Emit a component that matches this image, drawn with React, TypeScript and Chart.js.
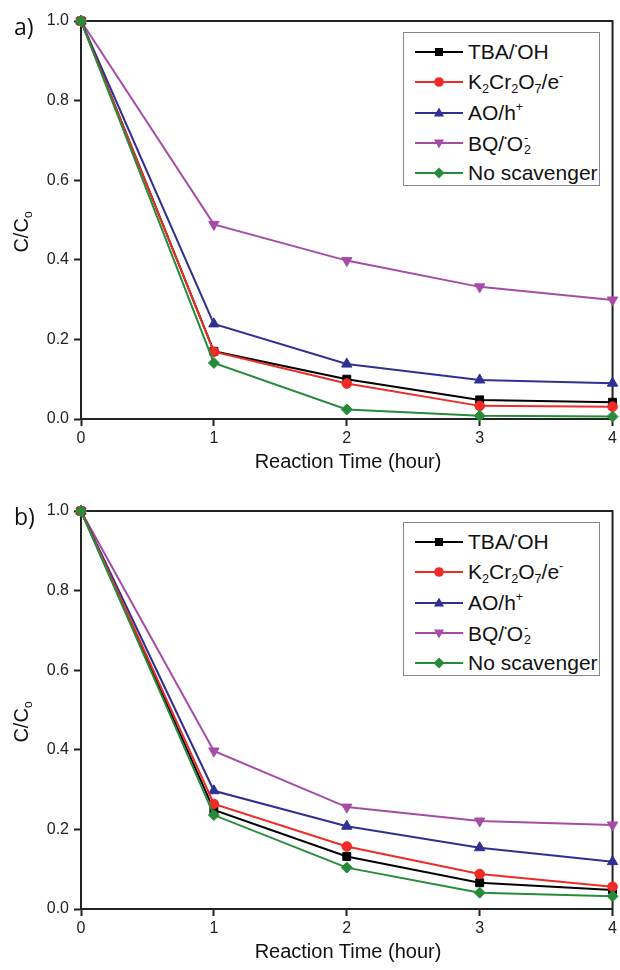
import React, { useEffect, useRef } from "react";
import { Chart, registerables } from "chart.js";
Chart.register(...registerables);

// ---------- data ----------
const hours = [0, 1, 2, 3, 4];
const xTickValues = [0, 1, 2, 3, 4];
const yTickValues = [0, 0.2, 0.4, 0.6, 0.8, 1.0];

const aTBA = [1.0, 0.17, 0.1, 0.048, 0.042];
const aK2 = [1.0, 0.169, 0.089, 0.033, 0.031];
const aAO = [1.0, 0.239, 0.138, 0.098, 0.09];
const aBQ = [1.0, 0.489, 0.398, 0.332, 0.299];
const aNo = [1.0, 0.141, 0.024, 0.008, 0.006];

const bTBA = [1.0, 0.249, 0.132, 0.066, 0.048];
const bK2 = [1.0, 0.264, 0.157, 0.088, 0.056];
const bAO = [1.0, 0.297, 0.208, 0.154, 0.119];
const bBQ = [1.0, 0.397, 0.256, 0.221, 0.211];
const bNo = [1.0, 0.236, 0.104, 0.041, 0.032];

const xTitle = "Reaction Time (hour)";

// ---------- styles ----------
const FONT = "'Liberation Sans', Arial, Helvetica, sans-serif";
const styles = [
  { color: "#000000", pointStyle: "rect", radius: 5.6, rotation: 0, order: 3 },
  { color: "#ee2b24", pointStyle: "circle", radius: 4.8, rotation: 0, order: 2 },
  { color: "#2e3192", pointStyle: "triangle", radius: 6, rotation: 0, order: 4 },
  { color: "#a54ca7", pointStyle: "triangle", radius: 6, rotation: 180, order: 5 },
  { color: "#278c3a", pointStyle: "rectRot", radius: 5.5, rotation: 0, order: 1 },
];

const Sup = ({ c, size = "0.6em", va = "0.7em" }: any) => (
  <span style={{ fontSize: size, verticalAlign: va, lineHeight: 0 }}>{c}</span>
);
const Sub = ({ c }: any) => (
  <span style={{ fontSize: "0.6em", verticalAlign: "-0.35em", lineHeight: 0 }}>{c}</span>
);

const legendLabels = [
  <span>TBA/<Sup c="•" size="0.35em" va="1.5em" />OH</span>,
  <span>K<Sub c="2" />Cr<Sub c="2" />O<Sub c="7" />/e<Sup c="-" /></span>,
  <span>AO/h<Sup c="+" /></span>,
  <span>
    BQ/<Sup c="•" size="0.35em" va="1.5em" />O
    <span style={{ display: "inline-block", position: "relative", width: "0.4em", height: "1em", lineHeight: 0 }}>
      <span style={{ position: "absolute", left: 1, top: 2, fontSize: "0.6em", lineHeight: 1 }}>-</span>
      <span style={{ position: "absolute", left: 1, top: 14, fontSize: "0.6em", lineHeight: 1 }}>2</span>
    </span>
  </span>,
  <span>No scavenger</span>,
];

const Marker = ({ i }: any) => {
  const s = styles[i];
  const c = s.color;
  let shape: any = null;
  const cx = 24, cy = 8;
  if (i === 0) shape = <rect x={cx - 4} y={cy - 4} width={8} height={8} fill={c} />;
  if (i === 1) shape = <circle cx={cx} cy={cy} r={4.8} fill={c} />;
  if (i === 2) shape = <polygon points={`${cx},${cy - 5.5} ${cx + 5},${cy + 3.5} ${cx - 5},${cy + 3.5}`} fill={c} />;
  if (i === 3) shape = <polygon points={`${cx},${cy + 5.5} ${cx + 5},${cy - 3.5} ${cx - 5},${cy - 3.5}`} fill={c} />;
  if (i === 4) shape = <polygon points={`${cx},${cy - 5.5} ${cx + 5.5},${cy} ${cx},${cy + 5.5} ${cx - 5.5},${cy}`} fill={c} />;
  return (
    <svg width={48} height={16} style={{ display: "block" }}>
      <line x1={0} y1={cy} x2={48} y2={cy} stroke={c} strokeWidth={2} />
      {shape}
    </svg>
  );
};

const framePlugin = {
  id: "frame",
  beforeDatasetsDraw(chart: any) {
    const { ctx, chartArea } = chart;
    ctx.save();
    ctx.strokeStyle = "#222";
    ctx.lineWidth = 2;
    ctx.strokeRect(chartArea.left, chartArea.top, chartArea.right - chartArea.left, chartArea.bottom - chartArea.top);
    ctx.restore();
  },
};

const Panel = ({ top, label, series }: any) => {
  const ref = useRef<HTMLCanvasElement>(null);
  useEffect(() => {
    const datasets = series.map((vals: number[], i: number) => ({
      label: "s" + i,
      data: hours.map((h, k) => ({ x: h, y: vals[k] })),
      borderColor: styles[i].color,
      backgroundColor: styles[i].color,
      borderWidth: 2,
      pointStyle: styles[i].pointStyle,
      pointRadius: styles[i].radius,
      pointRotation: styles[i].rotation,
      pointBorderWidth: 1,
      tension: 0,
      clip: false,
      order: styles[i].order,
    }));
    const chart = new Chart(ref.current as HTMLCanvasElement, {
      type: "line",
      data: { datasets },
      options: {
        animation: false,
        responsive: false,
        devicePixelRatio: 1,
        layout: { padding: { top: 21, right: 5, left: 0, bottom: 0 } },
        plugins: { legend: { display: false }, tooltip: { enabled: false } },
        scales: {
          x: {
            type: "linear",
            min: 0,
            max: 4,
            afterBuildTicks: (s: any) => { s.ticks = xTickValues.map((v) => ({ value: v })); },
            afterFit: (s: any) => { s.height = 61; },
            grid: { display: true, drawOnChartArea: false, drawTicks: true, tickLength: 7, tickColor: "#222", tickWidth: 2 },
            border: { display: true, color: "#222", width: 2 },
            ticks: { font: { family: FONT, size: 16 }, color: "#222", padding: 3, maxRotation: 0, callback: (v: any) => String(v) },
          },
          y: {
            min: 0,
            max: 1,
            afterBuildTicks: (s: any) => { s.ticks = yTickValues.map((v) => ({ value: v })); },
            afterFit: (s: any) => { s.width = 81; },
            grid: { display: true, drawOnChartArea: false, drawTicks: true, tickLength: 7, tickColor: "#222", tickWidth: 2 },
            border: { display: true, color: "#222", width: 2 },
            ticks: { font: { family: FONT, size: 16 }, color: "#222", padding: 5, callback: (v: any) => Number(v).toFixed(1) },
          },
        },
      },
      plugins: [framePlugin],
    } as any);
    return () => chart.destroy();
  }, []);

  return (
    <div style={{ position: "absolute", left: 0, top, width: 620, height: 480 }}>
      <canvas ref={ref} width={620} height={480} style={{ position: "absolute", left: 0, top: 0 }} />
      <div style={{ position: "absolute", left: 14, top: 12, fontFamily: "'Open Sans', sans-serif", fontSize: 23, lineHeight: "28px", color: "#111" }}>
        {label}
      </div>
      <div
        style={{
          position: "absolute", left: 21, top: 232, transform: "translate(-50%, -50%) rotate(-90deg)",
          fontFamily: FONT, fontSize: 20, color: "#111", whiteSpace: "nowrap", lineHeight: "24px",
        }}
      >
        C/C<Sub c="o" />
      </div>
      <div
        style={{
          position: "absolute", left: 348, top: 451, transform: "translateX(-50%)",
          fontFamily: FONT, fontSize: 20, color: "#111", whiteSpace: "nowrap", lineHeight: "20px",
        }}
      >
        {xTitle}
      </div>
      <div
        style={{
          position: "absolute", left: 403, top: 32, width: 197, height: 154, boxSizing: "border-box",
          border: "1.5px solid #888", background: "#fff", paddingTop: 4,
        }}
      >
        {legendLabels.map((lab, i) => (
          <div key={i} style={{ display: "flex", alignItems: "center", height: 30.3 }}>
            <div style={{ marginLeft: 11, width: 48 }}>
              <Marker i={i} />
            </div>
            <div style={{ marginLeft: 5, fontFamily: FONT, fontSize: 21, color: "#111", whiteSpace: "nowrap", lineHeight: "24px" }}>
              {lab}
            </div>
          </div>
        ))}
      </div>
    </div>
  );
};

export default function App() {
  return (
    <div style={{ position: "absolute", left: 0, top: 0, width: 620, height: 970, background: "#fff" }}>
      <Panel top={0} label="a)" series={[aTBA, aK2, aAO, aBQ, aNo]} />
      <Panel top={490} label="b)" series={[bTBA, bK2, bAO, bBQ, bNo]} />
    </div>
  );
}
